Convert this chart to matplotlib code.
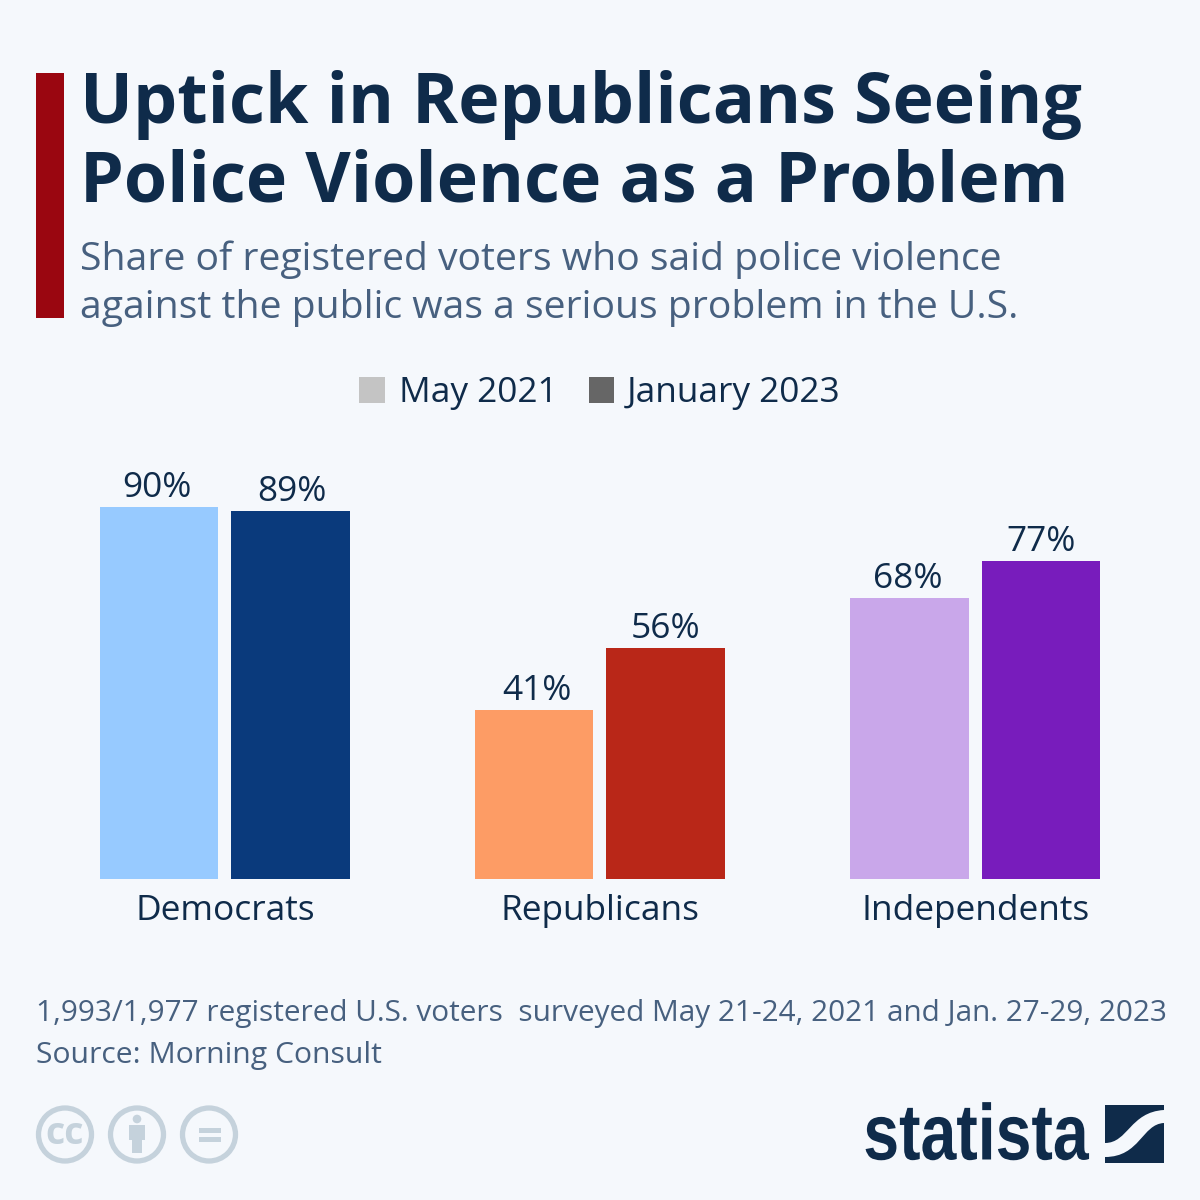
import matplotlib
matplotlib.use("Agg")
import matplotlib.pyplot as plt
from matplotlib.patches import Rectangle, Circle, PathPatch
from matplotlib.path import Path
from matplotlib.patheffects import AbstractPathEffect
from matplotlib.transforms import Affine2D

groups = ["Democrats", "Republicans", "Independents"]
may_2021 = [90, 41, 68]
jan_2023 = [89, 56, 77]
may_colors = ["#97caff", "#fd9c65", "#c9a7ea"]
jan_colors = ["#0a3a7c", "#b92718", "#781cbc"]
legend_labels = ["May 2021", "January 2023"]
legend_colors = ["#c4c4c4", "#666666"]

BG = "#f5f8fc"
DARK = "#0f2b4a"
MID = "#47607f"
plt.rcParams['font.family'] = ['Open Sans', 'DejaVu Sans']


class Condense(AbstractPathEffect):
    """Squeeze a text horizontally about a fixed x position (display px)."""
    def __init__(self, x0, sx):
        super().__init__()
        self.x0, self.sx = x0, sx

    def draw_path(self, renderer, gc, tpath, affine, rgbFace=None):
        squeeze = Affine2D().translate(-self.x0, 0).scale(self.sx, 1).translate(self.x0, 0)
        renderer.draw_path(gc, tpath, affine + squeeze, rgbFace)


fig = plt.figure(figsize=(12, 12), dpi=100, facecolor=BG)
bg = fig.add_axes([0, 0, 1, 1])
bg.set_xlim(0, 1200); bg.set_ylim(1200, 0); bg.axis('off')

bg.add_patch(Rectangle((36, 73), 28, 245, color="#9a0610", lw=0))
bg.text(80, 105, "Uptick in Republicans Seeing", fontsize=50.4, fontweight='bold', color=DARK, va='center')
bg.text(80, 184, "Police Violence as a Problem", fontsize=50.4, fontweight='bold', color=DARK, va='center')
bg.text(80, 260, "Share of registered voters who said police violence", fontsize=28.15, color=MID, va='center')
bg.text(80, 308, "against the public was a serious problem in the U.S.", fontsize=28.15, color=MID, va='center')

bg.add_patch(Rectangle((359, 377), 26, 26, color=legend_colors[0], lw=0))
bg.text(399, 393, legend_labels[0], fontsize=25.4, color=DARK, va='center')
bg.add_patch(Rectangle((589, 377), 25, 26, color=legend_colors[1], lw=0))
bg.text(627, 393, legend_labels[1], fontsize=25.4, color=DARK, va='center')

# plot area: baseline y=879, 100% = 413 px
ax = fig.add_axes([0, (1200 - 879) / 1200, 1, 413 / 1200])
ax.set_xlim(0, 1200); ax.set_ylim(0, 100); ax.axis('off')
centers = [225, 600, 975.4]
may_label_nudge = [-2, 3, -2]
jan_label_nudge = [1, 0, 0]
for c, g, a, b, ca, cb, na, nb in zip(centers, groups, may_2021, jan_2023, may_colors, jan_colors, may_label_nudge, jan_label_nudge):
    ax.bar(c - 66, a, width=118.5, color=ca, lw=0)
    ax.bar(c + 65.6, b, width=118.5, color=cb, lw=0)
    ax.annotate(f"{a}%", (c - 66 + na, a), xytext=(0, 1.5), textcoords='offset points', ha='center', va='bottom', fontsize=25.4, color=DARK)
    ax.annotate(f"{b}%", (c + 65.6 + nb, b), xytext=(0, 1.5), textcoords='offset points', ha='center', va='bottom', fontsize=25.4, color=DARK)
    bg.text(c, 911, g, fontsize=25.4, color=DARK, ha='center', va='center')

bg.text(36, 1013, "1,993/1,977 registered U.S. voters  surveyed May 21-24, 2021 and Jan. 27-29, 2023", fontsize=21.45, color=MID, va='center')
bg.text(36, 1055, "Source: Morning Consult", fontsize=21.7, color=MID, va='center')

# licence icons
ic = "#c5d2dc"
for x in (65, 137, 209):
    bg.add_patch(Circle((x, 1134.5), 26.5, fc='none', ec=ic, lw=3.8))
bg.text(65, 1134, "cc", fontsize=27, fontweight='bold', color=ic, ha='center', va='center')
bg.add_patch(Circle((137, 1119), 4.3, color=ic, lw=0))
bg.add_patch(Rectangle((129, 1125), 16, 15, color=ic, lw=0))
bg.add_patch(Rectangle((132, 1140), 10, 13, color=ic, lw=0))
bg.add_patch(Rectangle((199, 1128), 22, 5, color=ic, lw=0))
bg.add_patch(Rectangle((199, 1137), 22, 5, color=ic, lw=0))

# brand
brand = bg.text(1089, 1139, "statista", fontsize=57, fontweight='bold', family=['Liberation Sans'],
                color=DARK, ha='right', va='center')
brand.set_path_effects([Condense(1089, 0.813)])
bg.add_patch(Rectangle((1105, 1105), 59, 58, color=DARK, lw=0))
verts = [(1105, 1143), (1128, 1143), (1130, 1112), (1164, 1110),
         (1164, 1123), (1142, 1124), (1140, 1157), (1105, 1157), (1105, 1143)]
codes = [Path.MOVETO, Path.CURVE4, Path.CURVE4, Path.CURVE4,
         Path.LINETO, Path.CURVE4, Path.CURVE4, Path.CURVE4, Path.CLOSEPOLY]
bg.add_patch(PathPatch(Path(verts, codes), fc=BG, ec='none'))

fig.savefig("out.png", dpi=100, facecolor=BG)
